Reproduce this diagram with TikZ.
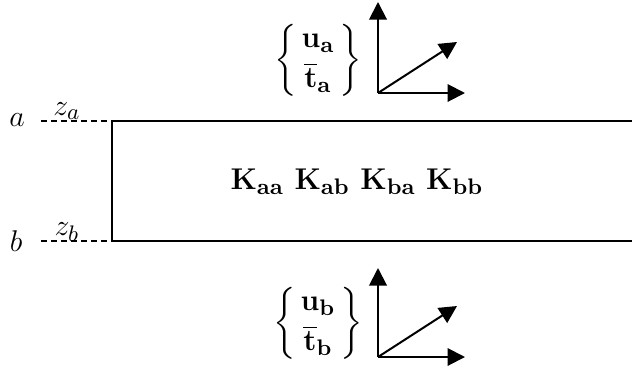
\documentclass[tikz,border=0pt]{standalone}
\usepackage{amsmath}
\usetikzlibrary{arrows.meta}
\begin{document}
\begin{tikzpicture}[x=0.4pt,y=-0.4pt,
  ln/.style={line width=0.8pt},
  dsh/.style={line width=0.8pt,dash pattern=on 2.2pt off 1.8pt},
  ar/.style={line width=0.8pt,-{Triangle[length=7pt,width=7pt]}},
  lbl/.style={inner sep=0pt,font=\fontsize{12.8}{15}\selectfont}]
\useasboundingbox (0,0) rectangle (632,367);
% plate
\coordinate (TL) at (112,121);
\coordinate (TR) at (632,121);
\coordinate (BL) at (112,241);
\coordinate (BR) at (632,241);
\draw[ln] (TR) -- (TL) -- (BL) -- (BR);
\node[lbl] (a) at (17,120) {$a$};
\node[lbl] (b) at (16,241) {$b$};
\coordinate (da) at (41,121);
\coordinate (db) at (41,241);
\draw[dsh] (da) -- (TL);
\draw[dsh] (db) -- (BL);
\node[lbl] (za) at (67,111) {$z_a$};
\node[lbl] (zb) at (67,232) {$z_b$};
\node[lbl] (K) at (357,182) {$\mathbf{K_{aa}}\ \mathbf{K_{ab}}\ \mathbf{K_{ba}}\ \mathbf{K_{bb}}$};
% top axes
\coordinate (Oa) at (378,93);
\coordinate (Va) at (378,2);
\coordinate (Ha) at (465,93);
\coordinate (Da) at (457,42);
\draw[ar] (Oa) -- (Va);
\draw[ar] (Oa) -- (Ha);
\draw[ar] (Oa) -- (Da);
\node[lbl] (ua) at (318,60) {$\left\{\begin{array}{@{\,}c@{\,}}\mathbf{u_a}\\[1pt] \overline{\mathbf{t}}_{\mathbf{a}}\end{array}\right\}$};
% bottom axes
\coordinate (Ob) at (378,357);
\coordinate (Vb) at (378,268);
\coordinate (Hb) at (465,357);
\coordinate (Db) at (457,306);
\draw[ar] (Ob) -- (Vb);
\draw[ar] (Ob) -- (Hb);
\draw[ar] (Ob) -- (Db);
\node[lbl] (ub) at (318,323) {$\left\{\begin{array}{@{\,}c@{\,}}\mathbf{u_b}\\[1pt] \overline{\mathbf{t}}_{\mathbf{b}}\end{array}\right\}$};
\end{tikzpicture}
\end{document}
